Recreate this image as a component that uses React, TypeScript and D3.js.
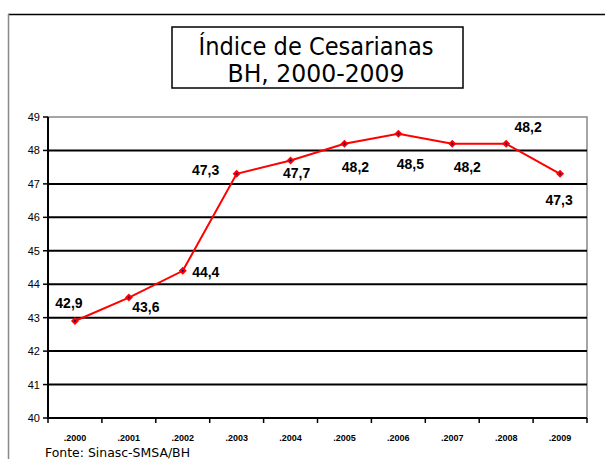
import React from "react";
import * as d3 from "d3";

const width = 605;
const height = 459;
const marginTop = 117;
const marginLeft = 48;
const plotRight = 587;
const plotBottom = 418;

const years = [".2000", ".2001", ".2002", ".2003", ".2004", ".2005", ".2006", ".2007", ".2008", ".2009"];
const values = [42.9, 43.6, 44.4, 47.3, 47.7, 48.2, 48.5, 48.2, 48.2, 47.3];
const labels = ["42,9", "43,6", "44,4", "47,3", "47,7", "48,2", "48,5", "48,2", "48,2", "47,3"];
// label centre offsets relative to the point (dx, dy)
const labelOffsets: [number, number][] = [
  [-6, -18], [17, 9], [23, 1], [-31, -4], [6, 13], [11, 23], [12, 30], [15, 23], [22, -17], [-1, 26],
];
const yTicks = [40, 41, 42, 43, 44, 45, 46, 47, 48, 49];

export default function App() {
  const x = d3.scaleBand<string>().domain(years).range([marginLeft, plotRight]);
  const y = d3.scaleLinear().domain([40, 49]).range([plotBottom, marginTop]);
  const cx = (i: number) => (x(years[i]) as number) + x.bandwidth() / 2;

  const line = d3
    .line<number>()
    .x((_, i) => cx(i))
    .y(d => y(d));

  const ds = 4;

  return (
    <svg width={width} height={height} style={{ position: "absolute", left: 0, top: 0 }}>
      <rect width={width} height={height} fill="#fff" />
      {/* outer frame */}
      <line x1={8} x2={width} y1={14.5} y2={14.5} stroke="#000" strokeWidth={1.5} />
      <line x1={8.5} x2={8.5} y1={14} y2={height} stroke="#888" strokeWidth={1.5} />

      {/* title box */}
      <rect x={172} y={27} width={291} height={61} fill="#fff" stroke="#000" strokeWidth={1.5} />
      <text x={316} y={55} textAnchor="middle" fontFamily="DejaVu Sans" fontSize={24} textLength={235} lengthAdjust="spacingAndGlyphs">
        Índice de Cesarianas
      </text>
      <text x={316} y={82} textAnchor="middle" fontFamily="DejaVu Sans" fontSize={24} textLength={177} lengthAdjust="spacingAndGlyphs">
        BH, 2000-2009
      </text>

      {/* plot border */}
      <rect x={marginLeft} y={marginTop} width={plotRight - marginLeft} height={plotBottom - marginTop} fill="none" stroke="#888" strokeWidth={1.5} />
      {/* gridlines */}
      {yTicks.filter(t => t > 40 && t < 49).map(t => (
        <line key={t} x1={marginLeft} x2={plotRight} y1={y(t)} y2={y(t)} stroke="#000" strokeWidth={2} />
      ))}
      {/* y axis */}
      <line x1={marginLeft} x2={marginLeft} y1={marginTop} y2={plotBottom + 1} stroke="#000" strokeWidth={2} />
      {yTicks.map(t => (
        <g key={t}>
          <line x1={marginLeft - 5} x2={marginLeft} y1={y(t)} y2={y(t)} stroke="#000" strokeWidth={1.5} />
          <text x={40} y={y(t) + 4} textAnchor="end" fontFamily="Liberation Sans" fontSize={11}>
            {t}
          </text>
        </g>
      ))}
      {/* x axis */}
      <line x1={marginLeft - 1} x2={plotRight} y1={plotBottom} y2={plotBottom} stroke="#000" strokeWidth={2} />
      {years.concat([""]).map((yr, i) => {
        const tx = i < years.length ? (x(yr) as number) : plotRight;
        return <line key={i} x1={tx} x2={tx} y1={plotBottom} y2={plotBottom + 5} stroke="#000" strokeWidth={1.5} />;
      })}
      {years.map((yr, i) => (
        <text key={yr} x={cx(i)} y={441} textAnchor="middle" fontFamily="Liberation Sans" fontWeight="bold" fontSize={9}>
          {yr}
        </text>
      ))}

      {/* series */}
      <path d={line(values) as string} fill="none" stroke="#ff0000" strokeWidth={2} />
      {values.map((v, i) => (
        <g key={i}>
          <path
            d={`M${cx(i)},${y(v) - ds}L${cx(i) + ds},${y(v)}L${cx(i)},${y(v) + ds}L${cx(i) - ds},${y(v)}Z`}
            fill="#ff0000"
          />
          <circle cx={cx(i)} cy={y(v)} r={1} fill="#000080" />
        </g>
      ))}
      {values.map((v, i) => (
        <text
          key={i}
          x={cx(i) + labelOffsets[i][0]}
          y={y(v) + labelOffsets[i][1] + 5}
          textAnchor="middle"
          fontFamily="Liberation Sans"
          fontWeight="bold"
          fontSize={14}
        >
          {labels[i]}
        </text>
      ))}

      <text x={45} y={457} fontFamily="DejaVu Sans" fontSize={12} textLength={145} lengthAdjust="spacingAndGlyphs">
        Fonte: Sinasc-SMSA/BH
      </text>
    </svg>
  );
}
